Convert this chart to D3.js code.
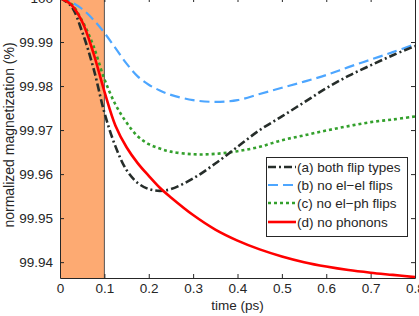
<!DOCTYPE html>
<html><head><meta charset="utf-8">
<script src="https://cdn.jsdelivr.net/npm/d3@7"></script>
<style>html,body{margin:0;padding:0;background:#fff;}svg{display:block;font-family:"Liberation Sans",Arial,sans-serif;}</style>
</head><body>
<svg id="chart" width="419" height="316"></svg>
<script>
const times = [0,0.025,0.05,0.075,0.1,0.125,0.15,0.175,0.2,0.225,0.25,0.3,0.35,0.4,0.45,0.5,0.55,0.6,0.65,0.7,0.75,0.8];
const bothFlips = [100,99.9982,99.9923,99.9842,99.9740,99.9663,99.9609,99.9580,99.9566,99.9562,99.9566,99.9590,99.9624,99.9662,99.9700,99.9731,99.9763,99.9795,99.9823,99.9847,99.9870,99.9891];
const noElEl   = [100,99.9991,99.9975,99.9951,99.9921,99.9886,99.9851,99.9822,99.9803,99.9790,99.9780,99.9768,99.9764,99.9768,99.9782,99.9796,99.9810,99.9825,99.9843,99.9860,99.9877,99.9895];
const noElPh   = [100,99.9987,99.9948,99.9892,99.9816,99.9758,99.9717,99.9686,99.9668,99.9658,99.9651,99.9645,99.9646,99.9652,99.9662,99.9677,99.9688,99.9699,99.9709,99.9718,99.9724,99.9731];
const noPhonons= [100,99.9985,99.9946,99.9876,99.9788,99.9710,99.9661,99.9625,99.9596,99.9569,99.9547,99.9507,99.9474,99.9449,99.9429,99.9413,99.9400,99.9390,99.9382,99.9376,99.9371,99.9366];
const seriesNames = ["(a) both flip types","(b) no el\u2212el flips","(c) no el\u2212ph flips","(d) no phonons"];
const xTicks = [0,0.1,0.2,0.3,0.4,0.5,0.6,0.7,0.8];
const yTicks = [99.94,99.95,99.96,99.97,99.98,99.99,100];
const pulseEnd = 0.1;

const styles = [
  {color:"#262d2a", width:2.6, dash:"8,3,2,3"},
  {color:"#4da6ff", width:2.2, dash:"10,5"},
  {color:"#33a02c", width:2.6, dash:"3,3"},
  {color:"#ff0000", width:2.6, dash:null}
];
const seriesVals = [bothFlips, noElEl, noElPh, noPhonons];

const svg = d3.select("#chart");
const L = 60, R = 415, T = -2, B = 278;
const FS = "13.5px";
const x = d3.scaleLinear().domain([0,0.8]).range([L,R]);
const y = d3.scaleLinear().domain([99.9364,100]).range([B,T]);
const axisColor = "#262626";

svg.append("defs").append("clipPath").attr("id","clip")
  .append("rect").attr("x",L).attr("y",T).attr("width",R-L).attr("height",B-T);

// shaded pulse region
svg.append("rect").attr("x",x(0)).attr("y",T).attr("width",x(pulseEnd)-x(0)).attr("height",B-T)
  .attr("fill","#fdaa72");
svg.append("line").attr("x1",x(pulseEnd)).attr("x2",x(pulseEnd)).attr("y1",T).attr("y2",B)
  .attr("stroke","#555").attr("stroke-width",1);

// axes
const fmtY = d => d === 100 ? "100" : d3.format(".2f")(d);
const fmtX = d => d === 0 ? "0" : String(d);
const ax = (g) => { g.selectAll("path").attr("stroke",axisColor); g.selectAll("line").attr("stroke",axisColor); g.selectAll("text").attr("fill",axisColor).style("font-size",FS).style("font-family","Liberation Sans, Arial, sans-serif"); };

svg.append("g").attr("transform",`translate(0,${B})`)
  .call(d3.axisBottom(x).tickValues(xTicks).tickFormat(fmtX).tickSizeInner(-4).tickSizeOuter(0).tickPadding(5))
  .call(ax);
svg.append("g").attr("transform",`translate(0,${T})`)
  .call(d3.axisTop(x).tickValues(xTicks).tickFormat("").tickSizeInner(-4).tickSizeOuter(0))
  .call(ax);
svg.append("g").attr("transform",`translate(${L},0)`)
  .call(d3.axisLeft(y).tickValues(yTicks).tickFormat(fmtY).tickSizeInner(-4).tickSizeOuter(0).tickPadding(7))
  .call(ax);
svg.append("g").attr("transform",`translate(${R},0)`)
  .call(d3.axisRight(y).tickValues(yTicks).tickFormat("").tickSizeInner(-4).tickSizeOuter(0))
  .call(ax);

// curves
const line = d3.line().x(d=>x(d[0])).y(d=>y(d[1])).curve(d3.curveCatmullRom.alpha(0.5));
const gC = svg.append("g").attr("clip-path","url(#clip)");
[1,2,0,3].forEach(i => {
  const data = times.map((t,k)=>[t, seriesVals[i][k]]);
  gC.append("path").datum(data).attr("d",line).attr("fill","none")
    .attr("stroke",styles[i].color).attr("stroke-width",styles[i].width)
    .attr("stroke-dasharray",styles[i].dash);
});

// labels
svg.append("text").attr("x",(L+R)/2).attr("y",310).attr("text-anchor","middle")
  .attr("fill",axisColor).style("font-size",FS).text("time (ps)");
svg.append("text").attr("transform",`translate(9,${135}) rotate(-90)`).attr("text-anchor","middle")
  .attr("dy","0.35em").attr("fill",axisColor).style("font-size","14px").text("normalized magnetization (%)");

// legend
const lg = svg.append("g");
lg.append("rect").attr("x",266.5).attr("y",157.5).attr("width",141).attr("height",79)
  .attr("fill","#fff").attr("stroke",axisColor).attr("stroke-width",1);
const rowY = [167,185,203,222];
seriesNames.forEach((name,i)=>{
  lg.append("line").attr("x1",268).attr("x2",296).attr("y1",rowY[i]).attr("y2",rowY[i])
    .attr("stroke",styles[i].color).attr("stroke-width",styles[i].width).attr("stroke-dasharray",styles[i].dash);
  lg.append("text").attr("x",297).attr("y",rowY[i]).attr("dy","0.35em")
    .attr("fill",axisColor).style("font-size",FS).text(name);
});
</script>
</body></html>
